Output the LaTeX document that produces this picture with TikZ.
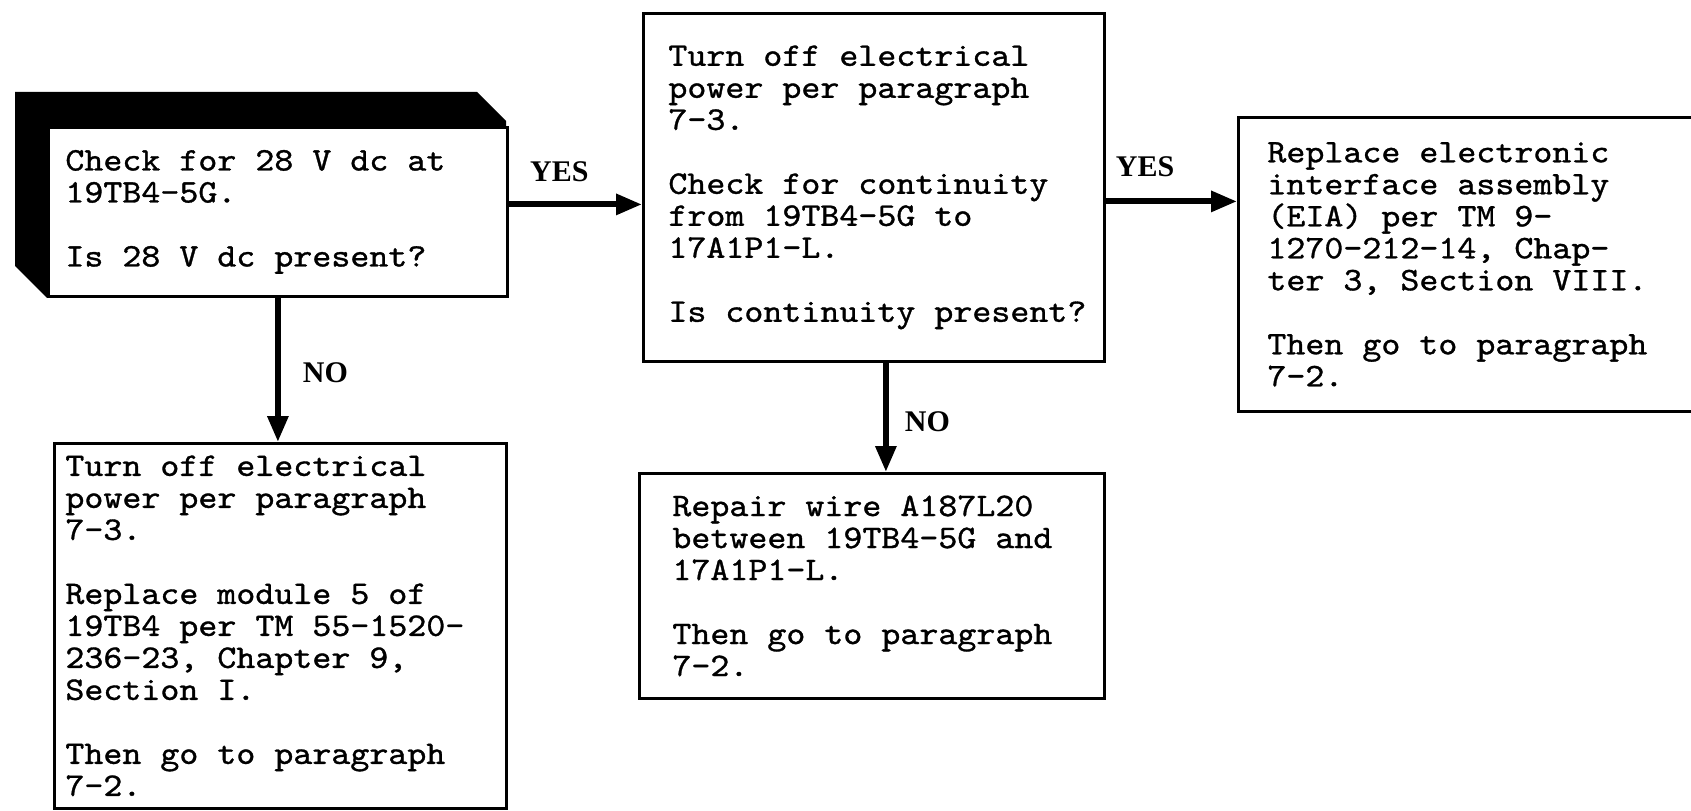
\documentclass[tikz,border=0pt]{standalone}
\usepackage{fontspec}
\usepackage{tikz}
\usetikzlibrary{positioning,arrows.meta}
\newfontfamily\typefont[FakeStretch=1.1,FakeBold=1]{lmmono10-regular.otf}
\newfontfamily\lblfont{Liberation Serif}
\setlength{\lineskiplimit}{-8pt}

\begin{document}
\begin{tikzpicture}[x=0.5pt,y=-0.5pt,
  box/.style={draw,line width=1.4pt,fill=white,inner sep=0pt,anchor=north west},
  txt/.style={align=left,inner sep=0pt,font=\typefont\fontsize{16.45}{16}\selectfont},
  lbl/.style={inner sep=0pt,font=\lblfont\bfseries\fontsize{15}{15}\selectfont},
  flow/.style={line width=3pt,-{Triangle[length=13pt,width=10pt]}}]
\useasboundingbox (0,0) rectangle (1691,810);
% boxes
\node[box,minimum width=229.5pt,minimum height=84.5pt] (chk) at (47,126) {};
\node[txt,right=9pt of chk.west] (chktxt) {Check for 28 V dc at\\19TB4-5G.\\[16pt]Is 28 V dc present?};
\node[box,minimum width=230.5pt,minimum height=174pt] (cont) at (642,12) {};
\node[txt,right=13pt of cont.west] (conttxt) {Turn off electrical\\power per paragraph\\7-3.\\[16pt]Check for continuity\\from 19TB4-5G to\\17A1P1-L.\\[16pt]Is continuity present?};
\node[box,minimum width=231.5pt,minimum height=147pt] (eia) at (1237,116) {};
\node[txt,right=15pt of eia.west] (eiatxt) {Replace electronic\\interface assembly\\(EIA) per TM 9-\\1270-212-14, Chap-\\ter 3, Section VIII.\\[16pt]Then go to paragraph\\7-2.};
\node[box,minimum width=226pt,minimum height=182.5pt] (mod) at (53,442) {};
\node[txt,right=6pt of mod.west] (modtxt) {Turn off electrical\\power per paragraph\\7-3.\\[16pt]Replace module 5 of\\19TB4 per TM 55-1520-\\236-23, Chapter 9,\\Section I.\\[16pt]Then go to paragraph\\7-2.};
\node[box,minimum width=232.5pt,minimum height=112.5pt] (wire) at (638,472) {};
\node[txt,right=17pt of wire.west] (wiretxt) {Repair wire A187L20\\between 19TB4-5G and\\17A1P1-L.\\[16pt]Then go to paragraph\\7-2.};
% solid shadow of the decision box
\fill (chk.south west) -- ++(-32,-32) -- ++(0,-174) -- ++(462,0) -- ++(29,29) |- (chk.north west) -- cycle;
% yes / no
\draw[flow] ([yshift=3.75pt]chk.east) -- ([yshift=3.75pt]chk.east -| cont.west)
  node[lbl,pos=0.38,above=10pt] (yes1) {YES};
\draw[flow] ([yshift=-7pt]cont.east) -- ([yshift=-7pt]cont.east -| eia.west)
  node[lbl,pos=0.3,above=11pt] (yes2) {YES};
\draw[flow] (chk.south) -- (chk.south |- mod.north)
  node[lbl,pos=0.52,right=11pt] (no1) {NO};
\draw[flow] ([xshift=6pt]cont.south) -- ([xshift=6pt]cont.south |- wire.north)
  node[lbl,pos=0.54,right=8pt] (no2) {NO};
\end{tikzpicture}
\end{document}
